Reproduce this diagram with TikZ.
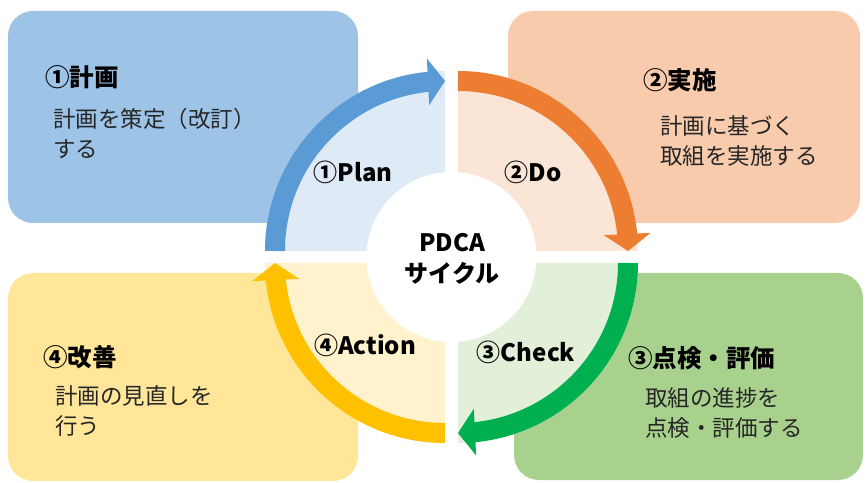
\documentclass[tikz,border=0pt]{standalone}
\usepackage{fontspec}
\setmainfont{Noto Sans CJK JP}
\usetikzlibrary{arrows.meta,bending}

\definecolor{PlanBox}{HTML}{9DC3E6}
\definecolor{PlanPale}{HTML}{DEEBF7}
\definecolor{PlanArrow}{HTML}{5B9BD5}
\definecolor{DoBox}{HTML}{F8CBAD}
\definecolor{DoPale}{HTML}{FBE5D6}
\definecolor{DoArrow}{HTML}{ED7D31}
\definecolor{CheckBox}{HTML}{A9D18E}
\definecolor{CheckPale}{HTML}{E2F0D9}
\definecolor{CheckArrow}{HTML}{00B050}
\definecolor{ActionBox}{HTML}{FFE699}
\definecolor{ActionPale}{HTML}{FFF2CC}
\definecolor{ActionArrow}{HTML}{FFC000}
\definecolor{TextGray}{HTML}{262626}

\tikzset{
  boxtitle/.style={anchor=west,inner sep=0pt,font=\fontsize{24.5}{28}\selectfont\bfseries},
  boxtext/.style={anchor=west,align=left,inner sep=0pt,text=TextGray,font=\fontsize{22.5}{30}\selectfont},
  cyclelabel/.style={inner sep=0pt,font=\fontsize{24}{28}\selectfont\bfseries},
  cyclearrow/.style={line width=20pt,-{Triangle[length=17pt,width=46pt,flex]}},
}

\begin{document}
\begin{tikzpicture}[x=1pt,y=1pt]
    \useasboundingbox (0,0) rectangle (866,482);
    \fill [PlanBox,rounded corners=25pt]   (8,259)   rectangle (358,471);% Draw plan box
    \fill [DoBox,rounded corners=25pt]     (508,259) rectangle (860,471);% Draw do box
    \fill [CheckBox,rounded corners=25pt]  (514,2)   rectangle (863,209);% Draw check box
    \fill [ActionBox,rounded corners=25pt] (8,1)     rectangle (358,209);% Draw action box
    \coordinate (PlanCorner)   at (445,231);
    \coordinate (DoCorner)     at (458,231);
    \coordinate (CheckCorner)  at (458,219);
    \coordinate (ActionCorner) at (445,219);
    \coordinate (Center)       at (451.5,225);
    \fill [PlanPale]   (PlanCorner)   -- ++(180:180) arc[start angle=180,end angle=90,radius=180] -- cycle;
    \fill [DoPale]     (DoCorner)     -- ++(90:180)  arc[start angle=90,end angle=0,radius=180] -- cycle;
    \fill [CheckPale]  (CheckCorner)  -- ++(0:180)   arc[start angle=0,end angle=-90,radius=180] -- cycle;
    \fill [ActionPale] (ActionCorner) -- ++(-90:180) arc[start angle=270,end angle=180,radius=180] -- cycle;
    \draw [cyclearrow,PlanArrow]   ([shift={(180:170)}]PlanCorner)   arc[start angle=180,end angle=90,radius=170];
    \draw [cyclearrow,DoArrow]     ([shift={(90:170)}]DoCorner)      arc[start angle=90,end angle=0,radius=170];
    \draw [cyclearrow,CheckArrow]  ([shift={(0:170)}]CheckCorner)    arc[start angle=0,end angle=-90,radius=170];
    \draw [cyclearrow,ActionArrow] ([shift={(-90:170)}]ActionCorner) arc[start angle=270,end angle=180,radius=170];
    \fill [white] (Center) circle[radius=85];% Draw centre disc
    \node [cyclelabel,align=center,font=\fontsize{24}{31}\selectfont\bfseries] (CenterLabel) at (452,223) {PDCA\\サイクル};
    \node [cyclelabel] (PlanLabel)   at (353,310) {①Plan};
    \node [cyclelabel] (DoLabel)     at (533,310) {②Do};
    \node [cyclelabel] (CheckLabel)  at (526,130) {③Check};
    \node [cyclelabel] (ActionLabel) at (365,137) {④Action};
    \node [boxtitle] (PlanTitle)   at (45,405)  {①計画};
    \node [boxtext]  (PlanText)    at (53,349)  {計画を策定（改訂）\\する};
    \node [boxtitle] (DoTitle)     at (643,402) {②実施};
    \node [boxtext]  (DoText)      at (660,341.5) {計画に基づく\\取組を実施する};
    \node [boxtitle] (CheckTitle)  at (628,124) {③点検・評価};
    \node [boxtext]  (CheckText)   at (645,68.5) {取組の進捗を\\点検・評価する};
    \node [boxtitle] (ActionTitle) at (43,125)  {④改善};
    \node [boxtext]  (ActionText)  at (55,71)   {計画の見直しを\\行う};
\end{tikzpicture}
\end{document}
